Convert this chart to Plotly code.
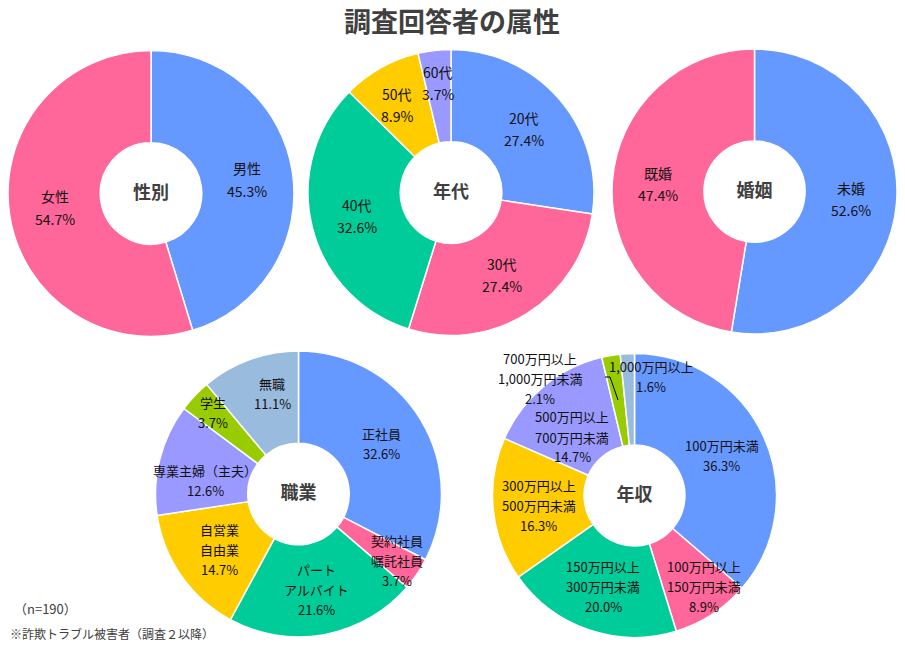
import math
import plotly.graph_objects as go

FONT = "Noto Sans CJK JP"
DARK = "#404040"
INK = "#111111"

BLUE, PINK, GREEN, YELLOW = "#6699FF", "#FF6699", "#00CC99", "#FFCC00"
PURPLE, LIME, STEEL = "#9999FF", "#99CC00", "#99BBDD"

# 性別
sex_labels = ["男性", "女性"]
sex_pct = [45.3, 54.7]

# 年代
age_labels = ["20代", "30代", "40代", "50代", "60代"]
age_pct = [27.4, 27.4, 32.6, 8.9, 3.7]

# 婚姻
marital_labels = ["未婚", "既婚"]
marital_pct = [52.6, 47.4]

# 職業
job_labels = ["正社員", "契約社員<br>嘱託社員", "パート<br>アルバイト", "自営業<br>自由業",
              "専業主婦（主夫）", "学生", "無職"]
job_pct = [32.6, 3.7, 21.6, 14.7, 12.6, 3.7, 11.1]

# 年収
income_labels = ["100万円未満", "100万円以上<br>150万円未満", "150万円以上<br>300万円未満",
                 "300万円以上<br>500万円未満", "500万円以上<br>700万円未満",
                 "700万円以上<br>1,000万円未満", "1,000万円以上"]
income_pct = [36.3, 8.9, 20.0, 16.3, 14.7, 2.1, 1.6]

W, H = 905, 645
HOLE = 0.355


def px(x, y):
    return x / W, 1 - y / H


def domain(cx, cy, r):
    x0, y1 = px(cx - r, cy - r)
    x1, y0 = px(cx + r, cy + r)
    return dict(x=[x0, x1], y=[y0, y1])


def text_block(lines, x, y, size, gap):
    # one annotation per line so the line gap can follow the original
    out = []
    for k, line in enumerate(lines):
        xp, yp = px(x, y + (k - (len(lines) - 1) / 2) * gap)
        out.append(dict(x=xp, y=yp, text=line, font=dict(size=size, color=INK)))
    return out


def slice_labels(labels, values, pie, size, gap, radius=None, at=None):
    # labels on the mid-angle of each slice (clockwise from 12 o'clock), mid-ring by default
    cx, cy, r = pie
    radius, at = radius or {}, at or {}
    total = sum(values)
    out = []
    for i, (lab, v) in enumerate(zip(labels, values)):
        lines = lab.split("<br>") + [f"{v:.1f}%"]
        if i in at:
            x, y = at[i]
        else:
            a = 2 * math.pi * (sum(values[:i]) + v / 2) / total
            rr = radius.get(i, r * (1 + HOLE) / 2)
            x, y = cx + rr * math.sin(a), cy - rr * math.cos(a)
        out += text_block(lines, x, y, size, gap)
    return out


def donut(labels, values, colors, title, pie):
    return go.Pie(
        labels=labels, values=values, sort=False, direction="clockwise",
        hole=HOLE, domain=domain(*pie), textinfo="none",
        marker=dict(colors=colors, line=dict(color="white", width=1.5)),
        title=dict(text=f"<b>{title}</b>", position="middle center",
                   font=dict(family=FONT, size=18, color=DARK)),
        showlegend=False, hoverinfo="label+percent",
    )


seven = [BLUE, PINK, GREEN, YELLOW, PURPLE, LIME, STEEL]
sex_pie = (151, 193.5, 143)
age_pie = (451, 192.5, 143)
mar_pie = (754.5, 191.5, 142.5)
job_pie = (298.5, 494, 143)
inc_pie = (634.5, 495.5, 142)

fig = go.Figure()
fig.add_trace(donut(sex_labels, sex_pct, [BLUE, PINK], "性別", sex_pie))
fig.add_trace(donut(age_labels, age_pct, seven[:5], "年代", age_pie))
fig.add_trace(donut(marital_labels, marital_pct, [BLUE, PINK], "婚姻", mar_pie))
fig.add_trace(donut(job_labels, job_pct, seven, "職業", job_pie))
fig.add_trace(donut(income_labels, income_pct, seven, "年収", inc_pie))

ann = [
    dict(x=px(452, 20)[0], y=px(452, 20)[1], text="<b>調査回答者の属性</b>", font=dict(size=27, color=DARK)),
    dict(x=px(12, 608)[0], y=px(12, 608)[1], text="（n=190）", xanchor="left", font=dict(size=13, color=DARK)),
    dict(x=px(8, 633)[0], y=px(8, 633)[1], text="※詐欺トラブル被害者（調査２以降）", xanchor="left",
         font=dict(size=12, color=DARK)),
]
ann += slice_labels(sex_labels, sex_pct, sex_pie, 14, 23)
ann += slice_labels(age_labels, age_pct, age_pie, 14, 22, radius={4: 110}, at={3: (397, 105)})
ann += slice_labels(marital_labels, marital_pct, mar_pie, 14, 22)
ann += slice_labels(job_labels, job_pct, job_pie, 13, 20, radius={1: 119, 5: 118},
                    at={4: (205, 480), 6: (272, 393)})
ann += slice_labels(income_labels, income_pct, inc_pie, 13, 20,
                    at={1: (704, 586), 4: (572, 437), 5: (540, 378), 6: (651, 376)})

for a in ann:
    a.update(xref="paper", yref="paper", showarrow=False, yanchor="middle")
    a.setdefault("xanchor", "center")
    a["font"]["family"] = FONT

p0, p1, p2 = px(605, 377), px(610, 377), px(618, 400)
fig.update_layout(
    width=W, height=H, margin=dict(l=0, r=0, t=0, b=0),
    paper_bgcolor="white", plot_bgcolor="white",
    annotations=ann,
    shapes=[dict(type="path", xref="paper", yref="paper",
                 path=f"M {p0[0]} {p0[1]} L {p1[0]} {p1[1]} L {p2[0]} {p2[1]}",
                 line=dict(color="black", width=1))],
)

# drop the browser's default 8px body margin so the figure fills the window
fig.write_html("out.html", config={"displayModeBar": False},
               post_script="document.body.style.margin = '0';")
